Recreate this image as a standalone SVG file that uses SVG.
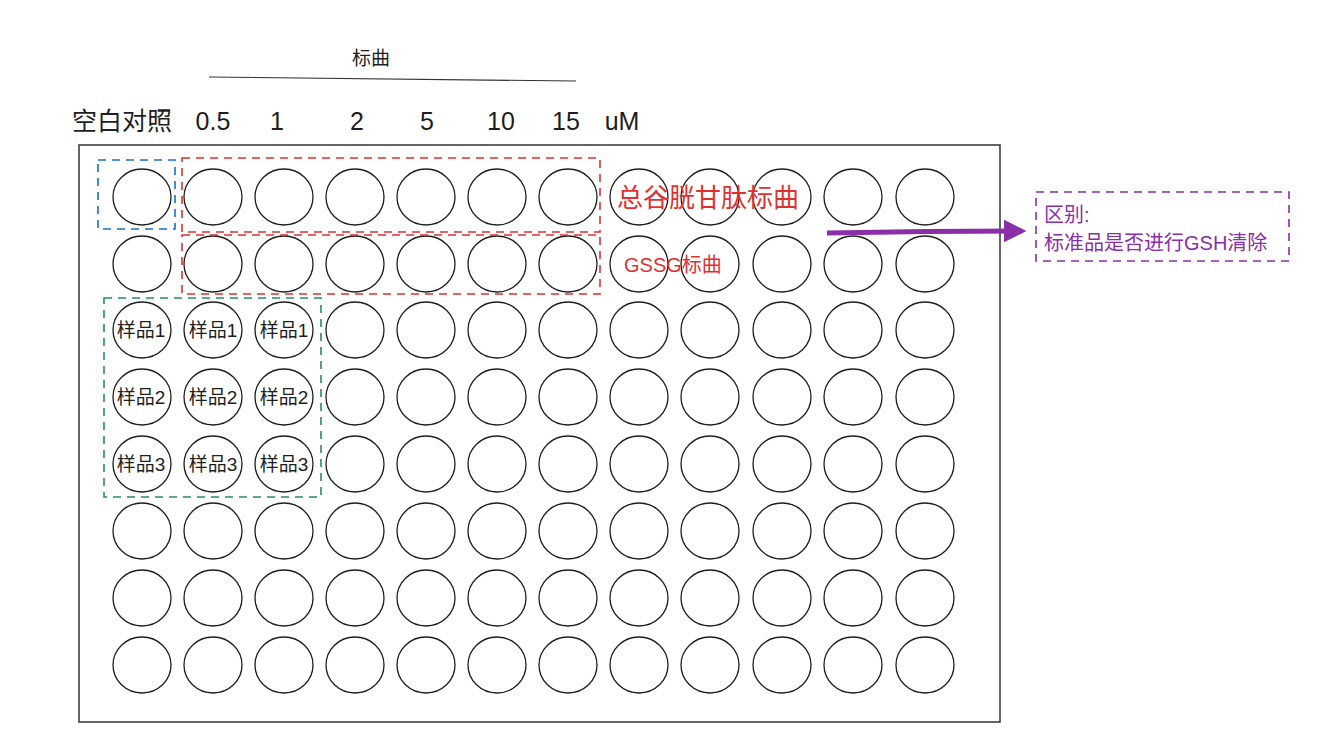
<svg xmlns="http://www.w3.org/2000/svg" width="1336" height="748" viewBox="0 0 1336 748">
<style>
.w{fill:none;stroke:#1e1e1e;stroke-width:1.3}
.t{font-family:"Liberation Sans","Noto Sans CJK SC",sans-serif;fill:#1e1e1e}
.s{font-size:19px;text-anchor:middle}
.h{font-size:25px}
.d{fill:none;stroke-width:1.6;stroke-dasharray:8 6}
</style>
<defs>
<marker id="ah" viewBox="0 0 10 10" refX="8" refY="5" markerWidth="4.5" markerHeight="4.5" orient="auto"><path d="M0,0 L10,5 L0,10 z" fill="#8a2fa8"/></marker>
</defs>
<rect width="1336" height="748" fill="#fff"/>
<g id="plate"><rect x="79" y="145" width="921" height="577" fill="none" stroke="#333" stroke-width="1.5"/></g>
<g id="wells">
<g id="r1"><ellipse class="w" cx="142" cy="197" rx="29" ry="28"/><ellipse class="w" cx="213" cy="197" rx="29" ry="28"/><ellipse class="w" cx="284" cy="197" rx="29" ry="28"/><ellipse class="w" cx="355" cy="197" rx="29" ry="28"/><ellipse class="w" cx="426" cy="197" rx="29" ry="28"/><ellipse class="w" cx="497" cy="197" rx="29" ry="28"/><ellipse class="w" cx="568" cy="197" rx="29" ry="28"/><ellipse class="w" cx="639" cy="197" rx="29" ry="28"/><ellipse class="w" cx="710" cy="197" rx="29" ry="28"/><ellipse class="w" cx="782" cy="197" rx="29" ry="28"/><ellipse class="w" cx="853" cy="197" rx="29" ry="28"/><ellipse class="w" cx="925" cy="197" rx="29" ry="28"/></g>
<g id="r2"><ellipse class="w" cx="142" cy="264" rx="29" ry="28"/><ellipse class="w" cx="213" cy="264" rx="29" ry="28"/><ellipse class="w" cx="284" cy="264" rx="29" ry="28"/><ellipse class="w" cx="355" cy="264" rx="29" ry="28"/><ellipse class="w" cx="426" cy="264" rx="29" ry="28"/><ellipse class="w" cx="497" cy="264" rx="29" ry="28"/><ellipse class="w" cx="568" cy="264" rx="29" ry="28"/><ellipse class="w" cx="639" cy="264" rx="29" ry="28"/><ellipse class="w" cx="710" cy="264" rx="29" ry="28"/><ellipse class="w" cx="782" cy="264" rx="29" ry="28"/><ellipse class="w" cx="853" cy="264" rx="29" ry="28"/><ellipse class="w" cx="925" cy="264" rx="29" ry="28"/></g>
<g id="r3"><ellipse class="w" cx="142" cy="330" rx="29" ry="28"/><ellipse class="w" cx="213" cy="330" rx="29" ry="28"/><ellipse class="w" cx="284" cy="330" rx="29" ry="28"/><ellipse class="w" cx="355" cy="330" rx="29" ry="28"/><ellipse class="w" cx="426" cy="330" rx="29" ry="28"/><ellipse class="w" cx="497" cy="330" rx="29" ry="28"/><ellipse class="w" cx="568" cy="330" rx="29" ry="28"/><ellipse class="w" cx="639" cy="330" rx="29" ry="28"/><ellipse class="w" cx="710" cy="330" rx="29" ry="28"/><ellipse class="w" cx="782" cy="330" rx="29" ry="28"/><ellipse class="w" cx="853" cy="330" rx="29" ry="28"/><ellipse class="w" cx="925" cy="330" rx="29" ry="28"/></g>
<g id="r4"><ellipse class="w" cx="142" cy="397" rx="29" ry="28"/><ellipse class="w" cx="213" cy="397" rx="29" ry="28"/><ellipse class="w" cx="284" cy="397" rx="29" ry="28"/><ellipse class="w" cx="355" cy="397" rx="29" ry="28"/><ellipse class="w" cx="426" cy="397" rx="29" ry="28"/><ellipse class="w" cx="497" cy="397" rx="29" ry="28"/><ellipse class="w" cx="568" cy="397" rx="29" ry="28"/><ellipse class="w" cx="639" cy="397" rx="29" ry="28"/><ellipse class="w" cx="710" cy="397" rx="29" ry="28"/><ellipse class="w" cx="782" cy="397" rx="29" ry="28"/><ellipse class="w" cx="853" cy="397" rx="29" ry="28"/><ellipse class="w" cx="925" cy="397" rx="29" ry="28"/></g>
<g id="r5"><ellipse class="w" cx="142" cy="464" rx="29" ry="28"/><ellipse class="w" cx="213" cy="464" rx="29" ry="28"/><ellipse class="w" cx="284" cy="464" rx="29" ry="28"/><ellipse class="w" cx="355" cy="464" rx="29" ry="28"/><ellipse class="w" cx="426" cy="464" rx="29" ry="28"/><ellipse class="w" cx="497" cy="464" rx="29" ry="28"/><ellipse class="w" cx="568" cy="464" rx="29" ry="28"/><ellipse class="w" cx="639" cy="464" rx="29" ry="28"/><ellipse class="w" cx="710" cy="464" rx="29" ry="28"/><ellipse class="w" cx="782" cy="464" rx="29" ry="28"/><ellipse class="w" cx="853" cy="464" rx="29" ry="28"/><ellipse class="w" cx="925" cy="464" rx="29" ry="28"/></g>
<g id="r6"><ellipse class="w" cx="142" cy="531" rx="29" ry="28"/><ellipse class="w" cx="213" cy="531" rx="29" ry="28"/><ellipse class="w" cx="284" cy="531" rx="29" ry="28"/><ellipse class="w" cx="355" cy="531" rx="29" ry="28"/><ellipse class="w" cx="426" cy="531" rx="29" ry="28"/><ellipse class="w" cx="497" cy="531" rx="29" ry="28"/><ellipse class="w" cx="568" cy="531" rx="29" ry="28"/><ellipse class="w" cx="639" cy="531" rx="29" ry="28"/><ellipse class="w" cx="710" cy="531" rx="29" ry="28"/><ellipse class="w" cx="782" cy="531" rx="29" ry="28"/><ellipse class="w" cx="853" cy="531" rx="29" ry="28"/><ellipse class="w" cx="925" cy="531" rx="29" ry="28"/></g>
<g id="r7"><ellipse class="w" cx="142" cy="598" rx="29" ry="28"/><ellipse class="w" cx="213" cy="598" rx="29" ry="28"/><ellipse class="w" cx="284" cy="598" rx="29" ry="28"/><ellipse class="w" cx="355" cy="598" rx="29" ry="28"/><ellipse class="w" cx="426" cy="598" rx="29" ry="28"/><ellipse class="w" cx="497" cy="598" rx="29" ry="28"/><ellipse class="w" cx="568" cy="598" rx="29" ry="28"/><ellipse class="w" cx="639" cy="598" rx="29" ry="28"/><ellipse class="w" cx="710" cy="598" rx="29" ry="28"/><ellipse class="w" cx="782" cy="598" rx="29" ry="28"/><ellipse class="w" cx="853" cy="598" rx="29" ry="28"/><ellipse class="w" cx="925" cy="598" rx="29" ry="28"/></g>
<g id="r8"><ellipse class="w" cx="142" cy="665" rx="29" ry="28"/><ellipse class="w" cx="213" cy="665" rx="29" ry="28"/><ellipse class="w" cx="284" cy="665" rx="29" ry="28"/><ellipse class="w" cx="355" cy="665" rx="29" ry="28"/><ellipse class="w" cx="426" cy="665" rx="29" ry="28"/><ellipse class="w" cx="497" cy="665" rx="29" ry="28"/><ellipse class="w" cx="568" cy="665" rx="29" ry="28"/><ellipse class="w" cx="639" cy="665" rx="29" ry="28"/><ellipse class="w" cx="710" cy="665" rx="29" ry="28"/><ellipse class="w" cx="782" cy="665" rx="29" ry="28"/><ellipse class="w" cx="853" cy="665" rx="29" ry="28"/><ellipse class="w" cx="925" cy="665" rx="29" ry="28"/></g>
</g>
<g id="samples" class="t">
<text class="s" x="141" y="337">样品1</text><text class="s" x="213" y="337">样品1</text><text class="s" x="284" y="337">样品1</text>
<text class="s" x="141" y="404">样品2</text><text class="s" x="213" y="404">样品2</text><text class="s" x="284" y="404">样品2</text>
<text class="s" x="141" y="471">样品3</text><text class="s" x="213" y="471">样品3</text><text class="s" x="284" y="471">样品3</text>
</g>
<g id="blank-box"><rect class="d" x="98" y="160" width="77" height="69" stroke="#1971c2"/></g>
<g id="std-box-1"><rect class="d" x="182" y="158" width="418" height="74" stroke="#e03131"/></g>
<g id="std-box-2"><rect class="d" x="182" y="235" width="418" height="59" stroke="#e03131"/></g>
<g id="sample-box"><rect class="d" x="104" y="298" width="217" height="199" stroke="#2b8a64"/></g>
<g id="header" class="t">
<text x="371" y="65" font-size="19" text-anchor="middle">标曲</text>
<text class="h" x="72" y="130" font-size="26">空白对照</text>
<text class="h" x="213" y="130" text-anchor="middle">0.5</text>
<text class="h" x="277" y="130" text-anchor="middle">1</text>
<text class="h" x="357" y="130" text-anchor="middle">2</text>
<text class="h" x="427" y="130" text-anchor="middle">5</text>
<text class="h" x="501" y="130" text-anchor="middle">10</text>
<text class="h" x="566" y="130" text-anchor="middle">15</text>
<text class="h" x="622" y="130" text-anchor="middle">uM</text>
</g>
<g id="labels">
<text x="617" y="207" font-size="26" fill="#e03131" font-family="&quot;Liberation Sans&quot;,&quot;Noto Sans CJK SC&quot;,sans-serif">总谷胱甘肽标曲</text>
<text x="624" y="272" font-size="20" fill="#e03131" font-family="&quot;Liberation Sans&quot;,&quot;Noto Sans CJK SC&quot;,sans-serif">GSSG标曲</text>
</g>
<g id="note">
<rect class="d" x="1036" y="192" width="253" height="69" stroke="#8a2fa8" stroke-width="2"/>
<text x="1044" y="222" font-size="20" fill="#8a2fa8" font-family="&quot;Liberation Sans&quot;,&quot;Noto Sans CJK SC&quot;,sans-serif">区别:</text>
<text x="1044" y="250" font-size="20" fill="#8a2fa8" font-family="&quot;Liberation Sans&quot;,&quot;Noto Sans CJK SC&quot;,sans-serif">标准品是否进行GSH清除</text>
</g>
<g id="connectors">
<line x1="209" y1="77" x2="576" y2="81" stroke="#333" stroke-width="1.2"/>
<path d="M827,233 Q930,231 1022,231" fill="none" stroke="#8a2fa8" stroke-width="5" marker-end="url(#ah)"/>
</g>
</svg>
